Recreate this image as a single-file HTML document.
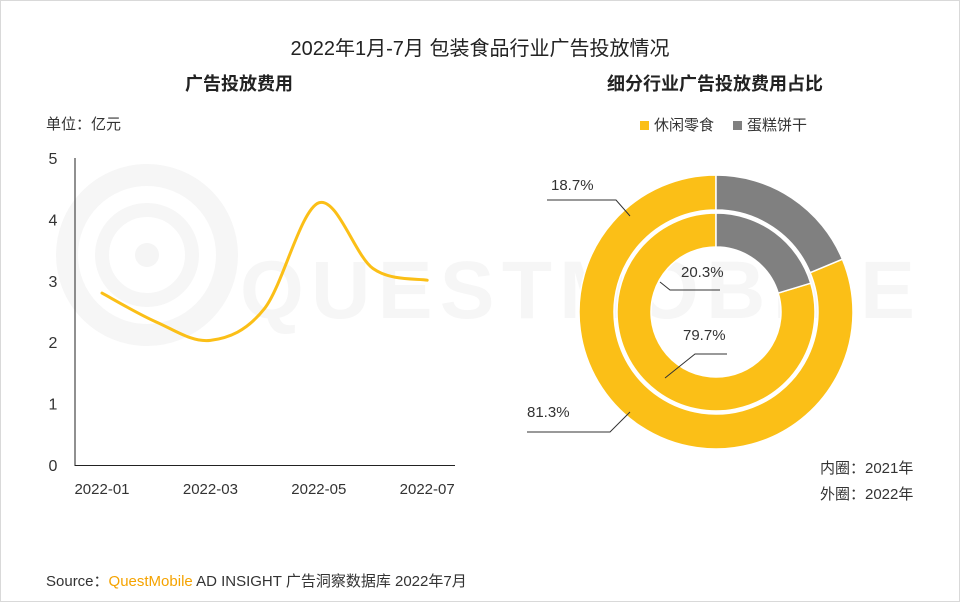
<!DOCTYPE html>
<html><head><meta charset="utf-8">
<style>
body{margin:0;width:960px;height:602px;background:#fff;font-family:"Liberation Sans","Noto Sans CJK SC",sans-serif;overflow:hidden;position:relative;color:#333}
.frame{position:absolute;left:0;top:0;width:958px;height:600px;border:1px solid #d9d9d9}
.t{position:absolute;white-space:nowrap}
</style></head><body>
<div class="frame"></div>
<svg width="960" height="602" style="position:absolute;left:0;top:0">
<g fill="none" stroke="#f6f6f6">
<circle cx="147" cy="255" r="80" stroke-width="22"/>
<circle cx="147" cy="255" r="45" stroke-width="14"/>
</g>
<circle cx="147" cy="255" r="12" fill="#f5f5f5"/>
<text x="240" y="318" font-size="82" font-weight="bold" fill="#f6f6f6" font-family="Liberation Sans" textLength="675">QUESTMOBILE</text>
</svg>
<div class="t" style="left:0;width:960px;text-align:center;top:32px;font-size:20px;color:#222">2022年1月-7月 包装食品行业广告投放情况</div>
<div class="t" style="left:185px;top:70px;font-size:18px;font-weight:bold;color:#222">广告投放费用</div>
<div class="t" style="left:607px;top:70px;font-size:18px;font-weight:bold;color:#222">细分行业广告投放费用占比</div>
<div class="t" style="left:46px;top:113px;font-size:15px">单位：亿元</div>
<svg id="line" width="960" height="602" style="position:absolute;left:0;top:0"></svg>
<svg id="donut" width="960" height="602" style="position:absolute;left:0;top:0"></svg>
<div class="t" style="left:640px;top:114px;font-size:15px"><span style="display:inline-block;width:9px;height:9px;background:#fbbf17;margin-right:5px"></span>休闲零食</div>
<div class="t" style="left:733px;top:114px;font-size:15px"><span style="display:inline-block;width:9px;height:9px;background:#808080;margin-right:5px"></span>蛋糕饼干</div>
<div class="t" style="left:820px;top:457px;font-size:15px">内圈：2021年</div>
<div class="t" style="left:820px;top:483px;font-size:15px">外圈：2022年</div>
<div class="t" style="left:46px;top:570px;font-size:15px">Source：<span style="color:#f5a300">QuestMobile</span> AD INSIGHT 广告洞察数据库 2022年7月</div>
<script>
const months=["2022-01","2022-02","2022-03","2022-04","2022-05","2022-06","2022-07"];
const spend=[2.8,2.33,2.03,2.55,4.27,3.2,3.01];
const yTicks=[0,1,2,3,4,5];
const xTickLabels=["2022-01","2022-03","2022-05","2022-07"];
const outerShares=[81.3,18.7];
const innerShares=[79.7,20.3];
const NS="http://www.w3.org/2000/svg";
function mk(p,tag,a){const e=document.createElementNS(NS,tag);for(const k in a)e.setAttribute(k,a[k]);p.appendChild(e);return e;}
const L=document.getElementById('line');
const xS=i=>102+i*54.2, yS=v=>465-v*61.4;
let ax=mk(L,'line',{x1:75,y1:158,x2:75,y2:466,stroke:'#222','stroke-width':1});


let bx=mk(L,'line',{x1:75,y1:465.5,x2:455,y2:465.5,stroke:'#222','stroke-width':1});


yTicks.forEach(v=>{const t=mk(L,'text',{x:53,y:yS(v)+6,'font-size':16,fill:'#333','text-anchor':'middle'});t.textContent=v;

});
xTickLabels.forEach(lb=>{const i=months.indexOf(lb);const t=mk(L,'text',{x:xS(i),y:494,'font-size':15,fill:'#333','text-anchor':'middle'});t.textContent=lb;

});
const P=spend.map((v,i)=>[xS(i),yS(v)]);
let d=`M${P[0][0]},${P[0][1]}`;
for(let i=0;i<P.length-1;i++){const p0=P[i-1]||P[i],p1=P[i],p2=P[i+1],p3=P[i+2]||p2;
d+=` C${p1[0]+(p2[0]-p0[0])/6},${p1[1]+(p2[1]-p0[1])/6} ${p2[0]-(p3[0]-p1[0])/6},${p2[1]-(p3[1]-p1[1])/6} ${p2[0]},${p2[1]}`;}
let ln=mk(L,'path',{d:d,fill:'none',stroke:'#fbbf17','stroke-width':3,'stroke-linecap':'round'});


const D=document.getElementById('donut');const cx=716,cy=312;
const cols=['#fbbf17','#808080'];
function ring(shares,r0,r1,name){let a=0;const tot=shares.reduce((s,v)=>s+v,0);
shares.forEach((v,i)=>{const a0=a,a1=a-v/tot*2*Math.PI;a=a1;
const pt=(r,t)=>[cx+r*Math.sin(t),cy-r*Math.cos(t)];
const big=Math.abs(a1-a0)>Math.PI?1:0;
const [x0,y0]=pt(r1,a0),[x1,y1]=pt(r1,a1),[x2,y2]=pt(r0,a1),[x3,y3]=pt(r0,a0);
const p=mk(D,'path',{d:`M${x0},${y0} A${r1},${r1} 0 ${big} 0 ${x1},${y1} L${x2},${y2} A${r0},${r0} 0 ${big} 1 ${x3},${y3} Z`,fill:cols[i],stroke:'#fff','stroke-width':1.5});

});}
ring(outerShares,102,137,'outer');
ring(innerShares,65,99,'inner');
function lab(txt,x,y,pts,anchor){mk(D,'polyline',{points:pts,fill:'none',stroke:'#333','stroke-width':1});
const t=mk(D,'text',{x:x,y:y,'font-size':15,fill:'#333','text-anchor':anchor||'start'});t.textContent=txt;

}
lab(outerShares[1].toFixed(1)+'%',551,190,'547,200 616,200 630,216');
lab(innerShares[1].toFixed(1)+'%',681,277,'720,290 670,290 660,282');
lab(innerShares[0].toFixed(1)+'%',683,340,'727,354 695,354 665,378');
lab(outerShares[0].toFixed(1)+'%',527,417,'527,432 610,432 630,412');
</script>
</body></html>
